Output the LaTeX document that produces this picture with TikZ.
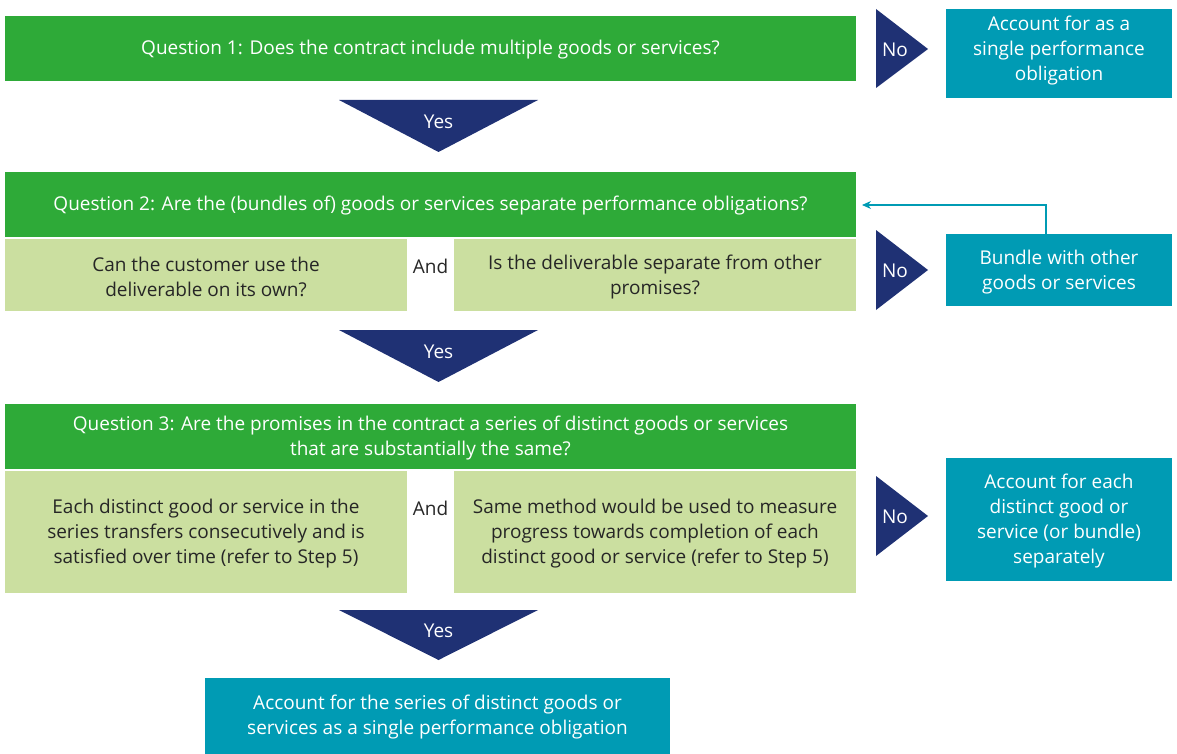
\documentclass[tikz,border=0pt]{standalone}
\usepackage{fontspec}
\setmainfont{Open Sans}
\usetikzlibrary{arrows.meta,calc}
\definecolor{qgreen}{RGB}{46,170,56}
\definecolor{lgreen}{RGB}{203,223,160}
\definecolor{navy}{RGB}{31,49,116}
\definecolor{teal}{RGB}{0,155,180}
\begin{document}
\begin{tikzpicture}[x=1pt,y=-1pt,
  txt/.style={font=\fontsize{19}{25}\selectfont, align=center, inner sep=0pt},
  qbox/.style={fill=qgreen, text=white},
  cbox/.style={fill=lgreen, text=black!85},
  tbox/.style={fill=teal, text=white},
  tri/.style={fill=navy},
  lab/.style={txt, text=white}
]
\useasboundingbox (0,0) rectangle (1177,754);
% Question 1
\fill[qbox] (5,16) rectangle (856,81);
\node[txt,text=white] (q1) at (430.5,50) {Question 1: Does the contract include multiple goods or services?};
\fill[tri] (876,9) -- (928,49) -- (876,88) -- cycle;
\node[lab] (no1) at (895,50) {No};
\fill[tbox] (946,9) rectangle (1172,98);
\node[txt,text=white] (r1) at (1059,51) {Account for as a\\single performance\\obligation};
\fill[tri] (339,100) -- (538,100) -- (438.5,152) -- cycle;
\node[lab] (y1) at (438.5,122) {Yes};
% Question 2
\fill[qbox] (5,172) rectangle (856,237);
\node[txt,text=white] (q2) at (430.5,206) {Question 2: Are the (bundles of) goods or services separate performance obligations?};
\coordinate (q2e) at (856,205);
\fill[cbox] (5,239) rectangle (407,311);
\node[txt,text=black!85] (c2a) at (206,277) {Can the customer use the\\deliverable on its own?};
\node[txt,text=black!85] (and2) at (430.5,266) {And};
\fill[cbox] (454,239) rectangle (856,311);
\node[txt,text=black!85] (c2b) at (655,277) {Is the deliverable separate from other\\promises?};
\fill[tri] (876,230) -- (928,270) -- (876,310) -- cycle;
\node[lab] (no2) at (895,271) {No};
\fill[tbox] (946,234) rectangle (1172,306);
\coordinate (b2top) at (1046,234);
\node[txt,text=white] (r2) at (1059,272) {Bundle with other\\goods or services};
\draw[teal, line width=1.2pt, -{Stealth[length=9pt,width=8pt]}, shorten >=6pt] (b2top) |- (q2e);
\fill[tri] (339,330) -- (538,330) -- (438.5,382) -- cycle;
\node[lab] (y2) at (438.5,352) {Yes};
% Question 3
\fill[qbox] (5,404) rectangle (856,469);
\node[txt,text=white] (q3) at (430.5,438) {Question 3: Are the promises in the contract a series of distinct goods or services\\that are substantially the same?};
\fill[cbox] (5,471) rectangle (407,593);
\node[txt,text=black!85] (c3a) at (206,534) {Each distinct good or service in the\\series transfers consecutively and is\\satisfied over time (refer to Step 5)};
\node[txt,text=black!85] (and3) at (430.5,508) {And};
\fill[cbox] (454,471) rectangle (856,593);
\node[txt,text=black!85] (c3b) at (655,534) {Same method would be used to measure\\progress towards completion of each\\distinct good or service (refer to Step 5)};
\fill[tri] (876,476) -- (928,516) -- (876,556) -- cycle;
\node[lab] (no3) at (895,517) {No};
\fill[tbox] (946,458) rectangle (1172,581);
\node[txt,text=white] (r3) at (1059,521) {Account for each\\distinct good or\\service (or bundle)\\separately};
\fill[tri] (339,610) -- (538,610) -- (438.5,660) -- cycle;
\node[lab] (y3) at (438.5,631) {Yes};
% Final
\fill[tbox] (205,678) rectangle (670,754);
\node[txt,text=white] (fin) at (437.5,717) {Account for the series of distinct goods or\\services as a single performance obligation};
\end{tikzpicture}
\end{document}
